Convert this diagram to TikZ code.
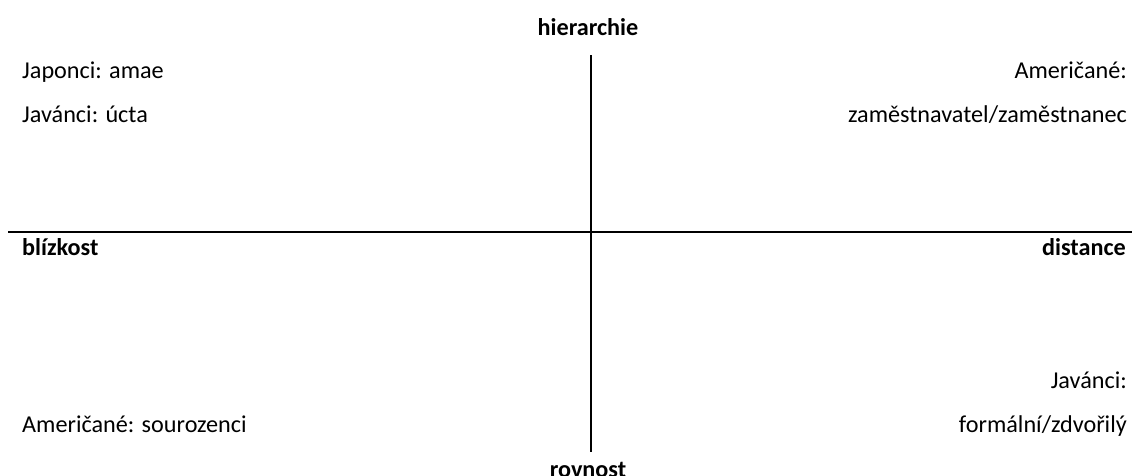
\documentclass[tikz,border=0pt]{standalone}
\usepackage{fontspec}
\setmainfont{Carlito}
\tikzset{
  lbl/.style={inner sep=0pt, font=\fontsize{24.2}{28}\selectfont},
  axlbl/.style={inner sep=0pt, font=\fontsize{24.2}{28}\selectfont\bfseries},
  axis/.style={line width=2pt, black}
}
\begin{document}
\begin{tikzpicture}[x=1pt,y=-1pt]
\useasboundingbox (0,0) rectangle (1132,475);
\coordinate (hl) at (8,232);
\coordinate (hr) at (1132,232);
\coordinate (vt) at (591,55);
\coordinate (vb) at (591,452);
\draw[axis] (hl) -- (hr);
\draw[axis] (vt) -- (vb);
\node[axlbl, anchor=base] (hier) at (588,35) {hierarchie};
\node[axlbl, anchor=base] (rov) at (588,477) {rovnost};
\node[axlbl, anchor=base west] (bliz) at (22,255) {blízkost};
\node[axlbl, anchor=base east] (dist) at (1126,255) {distance};
\node[lbl, anchor=base west] (jap) at (22,78) {Japonci: amae};
\node[lbl, anchor=base west] (jav1) at (22,122) {Javánci: úcta};
\node[lbl, anchor=base east] (am1) at (1127,78) {Američané:};
\node[lbl, anchor=base east] (zam) at (1127,122) {zaměstnavatel/zaměstnanec};
\node[lbl, anchor=base east] (jav2) at (1127,388) {Javánci:};
\node[lbl, anchor=base east] (form) at (1127,432) {formální/zdvořilý};
\node[lbl, anchor=base west] (am2) at (22,432) {Američané: sourozenci};
\end{tikzpicture}
\end{document}
